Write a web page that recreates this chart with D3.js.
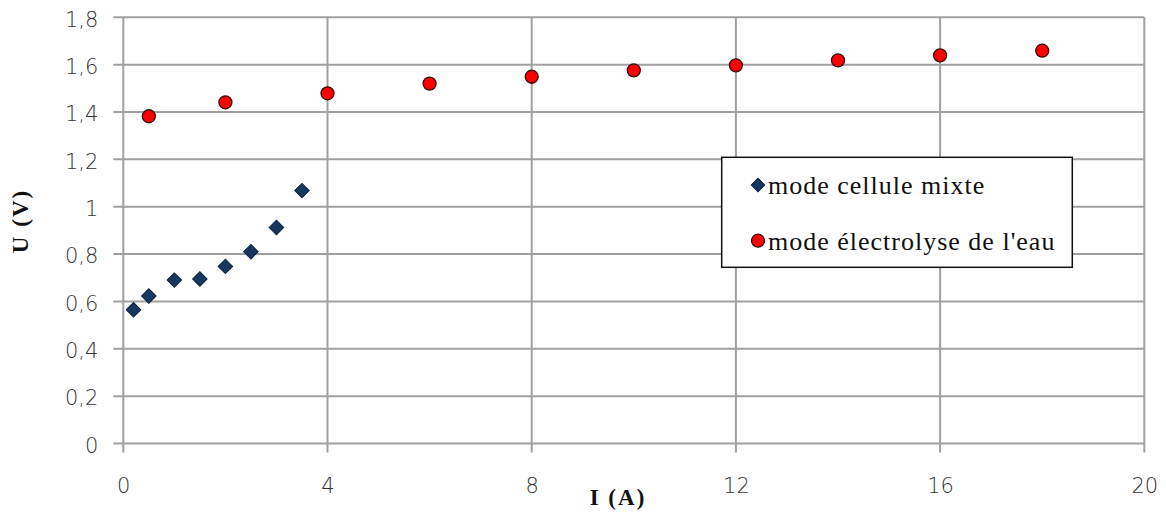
<!DOCTYPE html>
<html><head><meta charset="utf-8">
<script src="https://cdn.jsdelivr.net/npm/d3@7/dist/d3.min.js"></script>
<style>body{margin:0;background:#fff}svg{display:block}</style>
</head><body>
<svg id="c" width="1166" height="514"></svg>
<script>
// Data
const mixteI = [0.2, 0.5, 1, 1.5, 2, 2.5, 3, 3.5];
const mixteU = [0.565, 0.623, 0.69, 0.695, 0.748, 0.81, 0.912, 1.068];
const eauI = [0.5, 2, 4, 6, 8, 10, 12, 14, 16, 18];
const eauU = [1.382, 1.441, 1.479, 1.52, 1.549, 1.576, 1.597, 1.618, 1.639, 1.659];
const xTicks = [0, 4, 8, 12, 16, 20];
const yTicks = [0, 0.2, 0.4, 0.6, 0.8, 1, 1.2, 1.4, 1.6, 1.8];
const seriesNames = ["mode cellule mixte", "mode électrolyse de l'eau"];
const xTitle = "I (A)";
const yTitle = "U (V)";

const svg = d3.select("#c");
const L = 123.3, R = 1144.3, T = 17.3, B = 443.5;
const x = d3.scaleLinear().domain([0, 20]).range([L, R]);
const y = d3.scaleLinear().domain([0, 1.8]).range([B, T]);
const grid = "#a0a0a0";
const fmt = d => d3.format("~g")(d).replace(".", ",");

// gridlines
svg.append("g").selectAll("line").data(yTicks).join("line")
  .attr("x1", L - 10).attr("x2", R).attr("y1", d => y(d)).attr("y2", d => y(d))
  .attr("stroke", grid).attr("stroke-width", 2);
svg.append("g").selectAll("line").data(xTicks).join("line")
  .attr("x1", d => x(d)).attr("x2", d => x(d)).attr("y1", T).attr("y2", B + 9)
  .attr("stroke", grid).attr("stroke-width", 2);

// axes labels via d3 axes
const yAxis = svg.append("g").attr("transform", `translate(${L - 25},0)`)
  .call(d3.axisLeft(y).tickValues(yTicks).tickFormat(fmt).tickSize(0).tickPadding(0));
yAxis.select(".domain").remove();
yAxis.selectAll("text").attr("font-family", "DejaVu Sans").attr("font-weight", 300).attr("font-size", 21)
  .attr("fill", "#333").attr("dy", "0.42em");

const xAxis = svg.append("g").attr("transform", `translate(0,${B + 33})`)
  .call(d3.axisBottom(x).tickValues(xTicks).tickFormat(fmt).tickSize(0).tickPadding(0));
xAxis.select(".domain").remove();
xAxis.selectAll("text").attr("font-family", "DejaVu Sans").attr("font-weight", 300).attr("font-size", 21)
  .attr("fill", "#333").attr("dy", "0.8em");

// titles
svg.append("text").attr("x", 618).attr("y", 505).attr("text-anchor", "middle")
  .attr("font-family", "Liberation Serif").attr("font-weight", "bold").attr("font-size", 23)
  .attr("letter-spacing", 2).attr("fill", "#111").text(xTitle);
svg.append("text").attr("transform", "translate(28,221) rotate(-90)").attr("text-anchor", "middle")
  .attr("font-family", "Liberation Serif").attr("font-weight", "bold").attr("font-size", 23)
  .attr("letter-spacing", 2).attr("fill", "#111").text(yTitle);

// markers
const diamond = d3.symbol().type(d3.symbolSquare).size(105);
const mixte = mixteI.map((v, i) => ({ I: v, U: mixteU[i] }));
const eau = eauI.map((v, i) => ({ I: v, U: eauU[i] }));
svg.append("g").selectAll("path").data(mixte).join("path")
  .attr("d", diamond)
  .attr("transform", d => `translate(${x(d.I)},${y(d.U)}) rotate(45)`)
  .attr("fill", "#17375E").attr("stroke", "#0d223c").attr("stroke-width", 1);
svg.append("g").selectAll("circle").data(eau).join("circle")
  .attr("cx", d => x(d.I)).attr("cy", d => y(d.U)).attr("r", 6.5)
  .attr("fill", "#FF0000").attr("stroke", "#3a0a0a").attr("stroke-width", 1.3);

// legend
const lg = svg.append("g");
lg.append("rect").attr("x", 721.7).attr("y", 157.3).attr("width", 350.6).attr("height", 110)
  .attr("fill", "#fff").attr("stroke", "#111").attr("stroke-width", 1.5);
lg.append("path").attr("d", d3.symbol().type(d3.symbolSquare).size(90))
  .attr("transform", "translate(758,185) rotate(45)")
  .attr("fill", "#17375E").attr("stroke", "#0d223c").attr("stroke-width", 1);
lg.append("circle").attr("cx", 758).attr("cy", 240.7).attr("r", 6.5)
  .attr("fill", "#FF0000").attr("stroke", "#3a0a0a").attr("stroke-width", 1.3);
lg.selectAll("text").data(seriesNames).join("text")
  .attr("x", 768).attr("y", (d, i) => 194 + i * 55.5)
  .attr("font-family", "Liberation Serif").attr("font-size", 26).attr("letter-spacing", 1)
  .attr("fill", "#111").text(d => d);
</script>
</body></html>
